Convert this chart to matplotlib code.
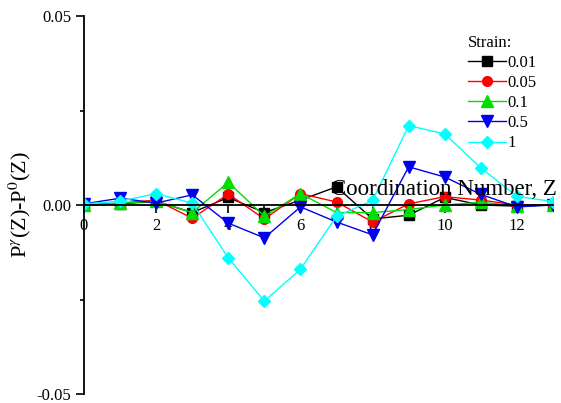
import matplotlib
matplotlib.use("Agg")
import matplotlib.pyplot as plt
from matplotlib.ticker import MultipleLocator

plt.rcParams['font.family'] = ['Liberation Serif', 'DejaVu Serif']
plt.rcParams['mathtext.fontset'] = 'stix'

z = list(range(14))
strains = ["0.01", "0.05", "0.1", "0.5", "1"]
s001 = [0.0, 0.0003, 0.001, -0.002, 0.002, -0.002, 0.0013, 0.0048, -0.0037, -0.0027, 0.002, 0.0, -0.0003, 0.0]
s005 = [0.0, 0.0005, 0.0013, -0.0035, 0.0029, -0.0037, 0.003, 0.0008, -0.0045, 0.0003, 0.0022, 0.0013, 0.0, 0.0]
s01 = [0.0, 0.0005, 0.001, -0.002, 0.006, -0.003, 0.003, -0.002, -0.002, -0.0012, 0.0, 0.0007, -0.0002, 0.0]
s05 = [0.0003, 0.0018, 0.0005, 0.0027, -0.0048, -0.0087, -0.0005, -0.0045, -0.0079, 0.0101, 0.0074, 0.0028, -0.0005, 0.0]
s1 = [0.0003, 0.001, 0.003, 0.0005, -0.014, -0.0254, -0.017, -0.003, 0.0012, 0.021, 0.0188, 0.0098, 0.0023, 0.0009]

series = [s001, s005, s01, s05, s1]
colors = ["black", "red", "#00dd00", "#0000ee", "cyan"]
markers = ["s", "o", "^", "v", "D"]
msizes = [6.5, 7, 8, 8, 6.5]

fig = plt.figure(figsize=(5.61, 4.03), dpi=100)
ax = fig.add_axes([84/561, 9/403, 469/561, 378/403])

for vals, c, m, ms, lab in zip(series, colors, markers, msizes, strains):
    ax.plot(z, vals, color=c, marker=m, markersize=ms, linewidth=1.0, label=lab)

ax.set_xlim(0, 13)
ax.set_ylim(-0.05, 0.05)
ax.spines['top'].set_visible(False)
ax.spines['right'].set_visible(False)
ax.spines['bottom'].set_position(('data', 0))
ax.spines['bottom'].set_linewidth(1.3)
ax.spines['left'].set_linewidth(1.3)
ax.xaxis.set_major_locator(MultipleLocator(2))
ax.xaxis.set_minor_locator(MultipleLocator(1))
ax.yaxis.set_major_locator(MultipleLocator(0.05))
ax.yaxis.set_minor_locator(MultipleLocator(0.025))
ax.yaxis.set_major_formatter(matplotlib.ticker.FormatStrFormatter('%.2f'))
ax.tick_params(which='major', direction='out', length=6, width=1.2, labelsize=12, pad=3)
ax.tick_params(which='minor', direction='out', length=3, width=1.2)
ax.set_ylabel(r"P$^{\gamma}$(Z)-P$^{0}$(Z)", fontsize=16)
ax.yaxis.set_label_coords(-0.109, 0.5)
ax.text(0.768, 0.527, "Coordination Number, Z", transform=ax.transAxes,
        ha='center', va='baseline', fontsize=16.5)

leg = ax.legend(title="Strain:", loc='upper left', bbox_to_anchor=(456/561, 1 - 23/403),
                bbox_transform=fig.transFigure, frameon=False, fontsize=12,
                title_fontsize=12, handlelength=2.3, labelspacing=0.25,
                handletextpad=0.1, borderpad=0.2)
leg._legend_box.align = "left"

fig.savefig("out.png", dpi=100)
